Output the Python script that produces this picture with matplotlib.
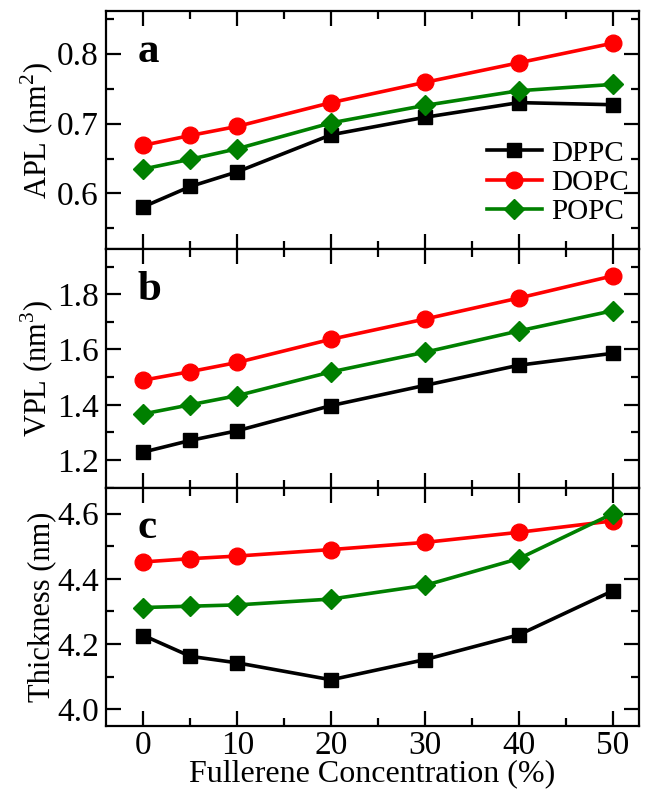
import matplotlib
matplotlib.use("Agg")
from matplotlib import pyplot as plt
from matplotlib.ticker import MultipleLocator

plt.rcParams['font.family'] = ['Liberation Serif', 'DejaVu Serif']
plt.rcParams['mathtext.fontset'] = 'custom'
plt.rcParams['mathtext.rm'] = 'Liberation Serif'

conc = [0, 5, 10, 20, 30, 40, 50]
lipids = ["DPPC", "DOPC", "POPC"]

apl_dppc = [0.581, 0.610, 0.631, 0.684, 0.709, 0.730, 0.727]
apl_dopc = [0.669, 0.683, 0.696, 0.730, 0.759, 0.787, 0.815]
apl_popc = [0.635, 0.649, 0.664, 0.701, 0.726, 0.747, 0.756]

vpl_dppc = [1.229, 1.271, 1.306, 1.397, 1.470, 1.543, 1.586]
vpl_dopc = [1.489, 1.520, 1.553, 1.637, 1.710, 1.786, 1.866]
vpl_popc = [1.367, 1.400, 1.433, 1.519, 1.590, 1.667, 1.740]

thk_dppc = [4.226, 4.162, 4.142, 4.090, 4.152, 4.228, 4.363]
thk_dopc = [4.452, 4.462, 4.470, 4.490, 4.512, 4.543, 4.578]
thk_popc = [4.312, 4.316, 4.320, 4.338, 4.380, 4.462, 4.600]

styles = {
    "DPPC": dict(color="black", marker="s", markersize=10.5),
    "DOPC": dict(color="red", marker="o", markersize=12),
    "POPC": dict(color="green", marker="D", markersize=10.5),
}

panels = [
    ("a", "APL (nm$^2$)", [apl_dppc, apl_dopc, apl_popc], (0.52, 0.861), 0.1, 0.05),
    ("b", "VPL (nm$^3$)", [vpl_dppc, vpl_dopc, vpl_popc], (1.1, 1.962), 0.2, 0.1),
    ("c", "Thickness (nm)", [thk_dppc, thk_dopc, thk_popc], (3.948, 4.68), 0.2, 0.1),
]

fig, axes = plt.subplots(3, 1, figsize=(6.46, 7.90), dpi=100, sharex=True)
fig.subplots_adjust(left=0.164, right=0.989, top=0.986, bottom=0.081, hspace=0)

for ax, (letter, ylabel, series, ylim, major, minor) in zip(axes, panels):
    for name, ys in zip(lipids, series):
        ax.plot(conc, ys, lw=2.6, label=name, **styles[name])
    ax.set_ylim(*ylim)
    ax.set_xlim(-4, 52.8)
    ax.yaxis.set_major_locator(MultipleLocator(major))
    ax.yaxis.set_minor_locator(MultipleLocator(minor))
    ax.xaxis.set_major_locator(MultipleLocator(10))
    ax.xaxis.set_minor_locator(MultipleLocator(5))
    ax.yaxis.set_major_formatter(matplotlib.ticker.FormatStrFormatter("%.1f"))
    ax.tick_params(which="both", direction="in", top=True, right=True, labelsize=24, width=1.6)
    ax.tick_params(which="major", length=11, pad=5)
    ax.tick_params(which="minor", length=6)
    ax.tick_params(axis="x", which="major", pad=3)
    for sp in ax.spines.values():
        sp.set_linewidth(1.6)
    ax.set_ylabel(ylabel, fontsize=22, labelpad=1)
    ax.text(0.06, 0.91, letter, transform=ax.transAxes, fontsize=31,
            fontweight="bold", va="top", ha="left")

axes[0].legend(loc="center right", bbox_to_anchor=(1.03, 0.28), frameon=False,
               fontsize=21, handlelength=1.9, labelspacing=0.1, handletextpad=0.3)
axes[2].set_xlabel("Fullerene Concentration (%)", fontsize=23, labelpad=-1)
fig.align_ylabels(axes)

fig.savefig("out.png")
